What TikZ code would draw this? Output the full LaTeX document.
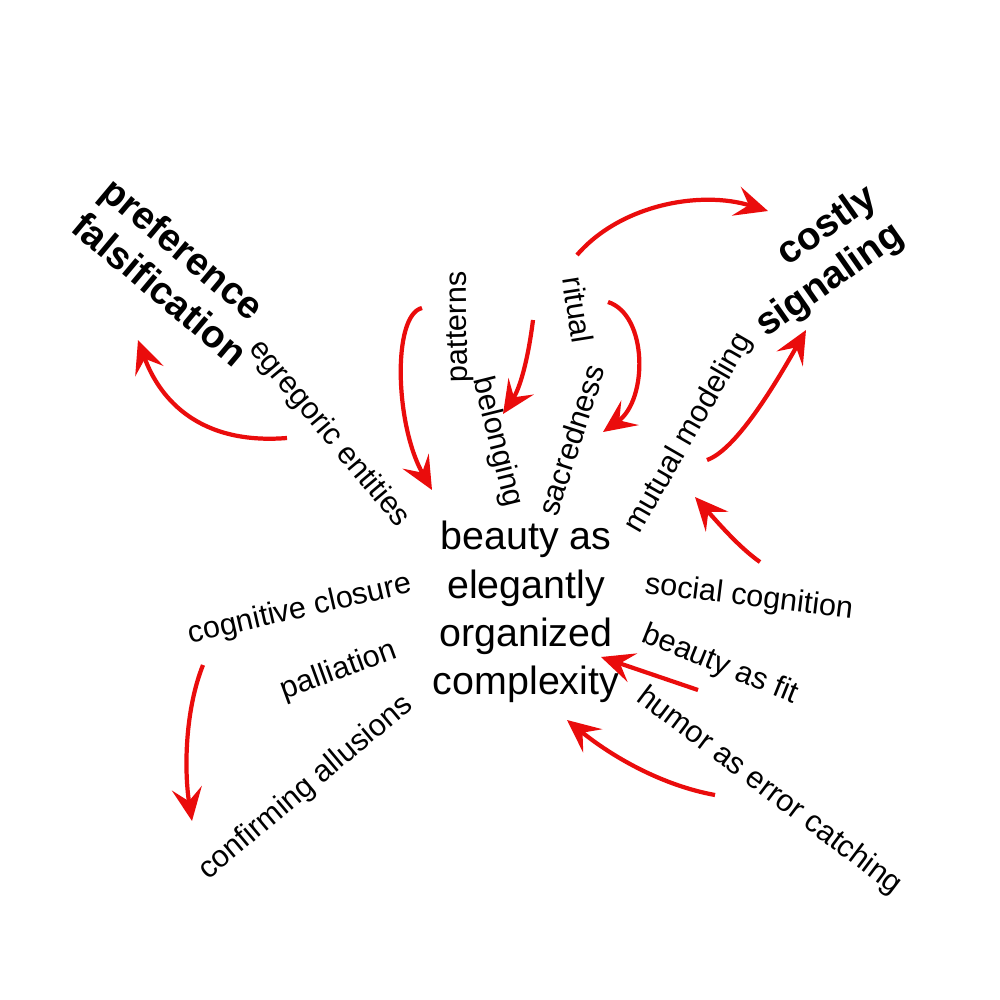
\documentclass[tikz,border=0pt]{standalone}
\usepackage{fontspec}
\setmainfont{Liberation Sans}
\usepackage{tikz}
\usetikzlibrary{arrows.meta}

\definecolor{linkred}{RGB}{234,12,12}

\begin{document}
\begin{tikzpicture}[
          x=0.01cm, y=-0.01cm,
          every node/.style={inner sep=0pt},
          lbl/.style={font=\fontsize{8.7}{10.4}\selectfont},
          title/.style={font=\fontsize{11}{13}\selectfont\bfseries},
          core/.style={font=\fontsize{11.2}{13.7}\selectfont, align=center},
          link/.style={-{Stealth[length=3.3mm, width=3mm, inset=1.3mm]}, line width=1.2pt, linkred}
      ]
        \fill[white] (0,0) rectangle (1000,1000);
        \node[core] (core) at (526,612) {beauty as\\elegantly\\organized\\complexity};
        \node[title, align=left, rotate=-40] (pref) at (175,271) {preference\\falsification};
        \node[title, align=right, rotate=35] (costly) at (817,262) {costly\\signaling};
        \node[lbl, rotate=-50] (egreg) at (329,434) {egregoric entities};
        \node[lbl, rotate=91] (patt) at (460,327) {patterns};
        \node[lbl, rotate=-76] (belong) at (497,442) {belonging};
        \node[lbl, rotate=-81] (ritual) at (578,310) {ritual};
        \node[lbl, rotate=72] (sacred) at (571,440) {sacredness};
        \node[lbl, rotate=60] (mutual) at (689,433) {mutual modeling};
        \node[lbl, rotate=-7] (social) at (749,598) {social cognition};
        \node[lbl, rotate=-22] (fit) at (720,665) {beauty as fit};
        \node[lbl, rotate=-37] (humor) at (769,791) {humor as error catching};
        \node[lbl, rotate=13] (closure) at (300,610) {cognitive closure};
        \node[lbl, rotate=20] (pall) at (339,671) {palliation};
        \node[lbl, rotate=40] (allus) at (306,788) {confirming allusions};
        % arrow ends
        \coordinate (egTail) at (287,438);
        \coordinate (prefTip) at (138,340);
        \coordinate (topTail) at (422,308);
        \coordinate (coreTipA) at (432,490);
        \coordinate (belTail) at (533,320);
        \coordinate (belTip) at (503,414);
        \coordinate (ritTail) at (577,255);
        \coordinate (costTip) at (768,211);
        \coordinate (sacTail) at (608,302);
        \coordinate (sacTip) at (603,432);
        \coordinate (mutTail) at (707,460);
        \coordinate (sigTip) at (806,330);
        \coordinate (socTail) at (760,562);
        \coordinate (mutTip) at (695,497);
        \coordinate (fitTail) at (698,690);
        \coordinate (coreTipB) at (601,657);
        \coordinate (humTail) at (715,795);
        \coordinate (coreTipC) at (567,720);
        \coordinate (cloTail) at (203,665);
        \coordinate (cloTip) at (192,821);
        \draw[link] (egTail) .. controls (200,445) and (160,400) .. (prefTip);
        \draw[link] (topTail) .. controls (392,315) and (395,425) .. (coreTipA);
        \draw[link] (belTail) .. controls (528,360) and (520,388) .. (belTip);
        \draw[link] (ritTail) .. controls (620,205) and (700,190) .. (costTip);
        \draw[link] (sacTail) .. controls (648,315) and (648,400) .. (sacTip);
        \draw[link] (mutTail) .. controls (735,450) and (772,390) .. (sigTip);
        \draw[link] (socTail) .. controls (740,548) and (720,525) .. (mutTip);
        \draw[link] (fitTail) -- (coreTipB);
        \draw[link] (humTail) .. controls (660,785) and (610,755) .. (coreTipC);
        \draw[link] (cloTail) .. controls (185,710) and (184,770) .. (cloTip);
      \end{tikzpicture}
\end{document}
